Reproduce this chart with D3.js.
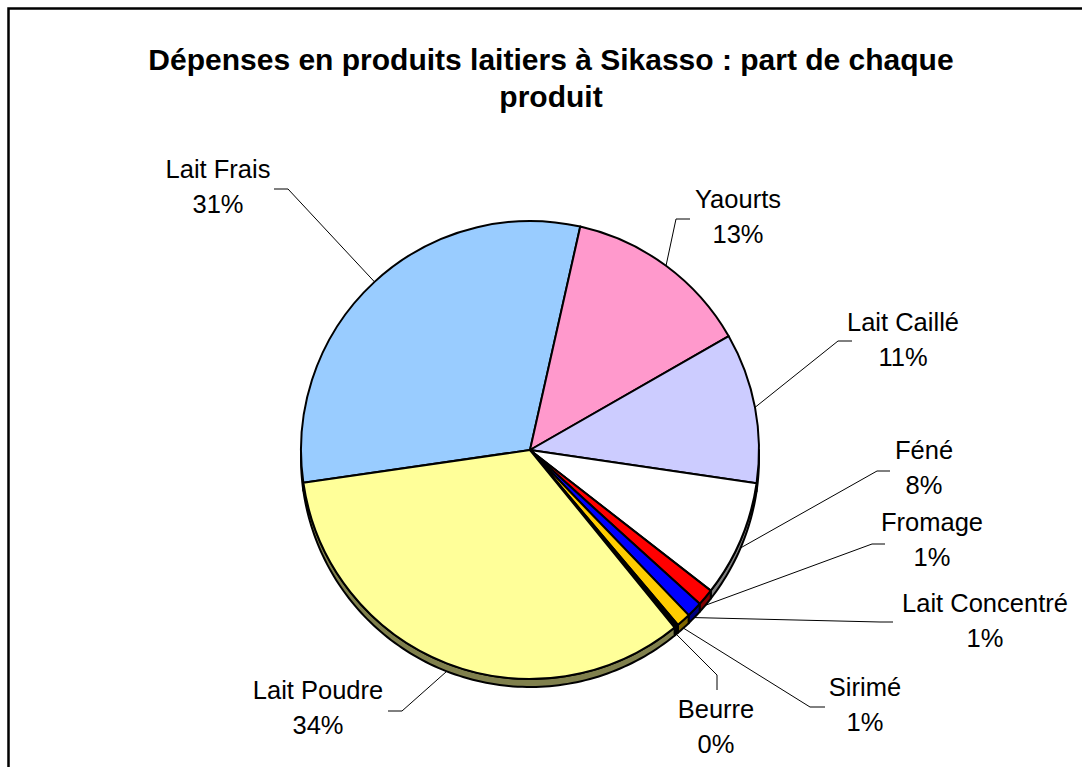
<!DOCTYPE html>
<html>
<head>
<meta charset="utf-8">
<script src="https://cdn.jsdelivr.net/npm/d3@7/dist/d3.min.js"></script>
<style>
  body { margin: 0; background: #fff; }
  text { font-family: "Liberation Sans", Arial, sans-serif; fill: #000; }
</style>
</head>
<body>
<div id="chart"></div>
<script>
// Dépenses en produits laitiers à Sikasso - 3D-ish pie, Excel style

var categories = ["Lait Frais", "Yaourts", "Lait Caillé", "Féné", "Fromage",
  "Lait Concentré", "Sirimé", "Beurre", "Lait Poudre"];
var values = [30.8, 13.2, 10.6, 8.2, 1.2, 1.1, 1.0, 0.3, 33.6];
var colors = ["#99CCFF", "#FF99CC", "#CCCCFF", "#FFFFFF", "#FF0000",
  "#0000FF", "#FFCC00", "#000000", "#FFFF99"];
var titleLines = ["Dépenses en produits laitiers à Sikasso : part de chaque", "produit"];

// label placement (text centre x, first baseline y, leader start + elbow)
var labelLayout = [
  { x: 218, y: 178, leader: [[274, 189], [288, 189]] },
  { x: 738, y: 208, leader: [[690, 219], [676, 219]] },
  { x: 903, y: 331, leader: [[852, 341], [838, 341]] },
  { x: 924, y: 459, leader: [[890, 471], [877, 471]] },
  { x: 932, y: 531, leader: [[885, 544], [872, 544]] },
  { x: 985, y: 612, leader: [[893, 622], [880, 622]] },
  { x: 865, y: 696, leader: [[825, 707], [810, 707]] },
  { x: 716, y: 718, leader: [[717, 690], [717, 675]] },
  { x: 318, y: 699, leader: [[388, 711], [402, 711]] }
];

var width = 1082;
var height = 767;
var cx = 530, cy = 450, radius = 229, depth = 8;
var startAngle = -98.2 * Math.PI / 180;

var svg = d3.select("#chart")
  .append("svg")
  .attr("width", width)
  .attr("height", height);

// frame (only top and left edges fall inside the picture)
svg.append("rect")
  .attr("x", 8.5)
  .attr("y", 8.5)
  .attr("width", width + 20)
  .attr("height", height + 20)
  .attr("fill", "none")
  .attr("stroke", "#000")
  .attr("stroke-width", 2.5);

svg.selectAll(".title")
  .data(titleLines)
  .enter()
  .append("text")
  .attr("class", "title")
  .attr("x", 551)
  .attr("y", function(d, i) { return 70 + i * 37; })
  .attr("text-anchor", "middle")
  .style("font-size", "30px")
  .style("font-weight", "bold")
  .text(function(d) { return d; });

var total = d3.sum(values);
var data = categories.map(function(c, i) {
  return { category: c, value: values[i], color: colors[i], layout: labelLayout[i] };
});

var pie = d3.pie()
  .sort(null)
  .value(function(d) { return d.value; })
  .startAngle(startAngle)
  .endAngle(startAngle + 2 * Math.PI);

var arcs = pie(data);

var arc = d3.arc()
  .innerRadius(0)
  .outerRadius(radius);

function halfColor(c) {
  var rgb = d3.rgb(c);
  return d3.rgb(rgb.r * 0.5, rgb.g * 0.5, rgb.b * 0.5).toString();
}

function pt(a, r, dy) {
  return [Math.sin(a) * r, -Math.cos(a) * r + (dy || 0)];
}

// side band of the visible (front) part of each slice
function sidePath(d) {
  var paths = [];
  [-2 * Math.PI, 0, 2 * Math.PI].forEach(function(k) {
    var a0 = Math.max(d.startAngle, Math.PI / 2 + k);
    var a1 = Math.min(d.endAngle, 3 * Math.PI / 2 + k);
    if (a1 <= a0) return;
    var n = Math.max(2, Math.ceil((a1 - a0) / 0.02));
    var top = d3.range(n + 1).map(function(j) { return pt(a0 + (a1 - a0) * j / n, radius, 0); });
    var bottom = d3.range(n + 1).map(function(j) { return pt(a1 - (a1 - a0) * j / n, radius, depth); });
    paths.push("M" + top.concat(bottom).map(function(p) { return p.join(","); }).join("L") + "Z");
  });
  return paths.join("");
}

var pieGroup = svg.append("g")
  .attr("transform", "translate(" + cx + "," + cy + ")");

pieGroup.selectAll(".side")
  .data(arcs)
  .enter()
  .append("path")
  .attr("class", "side")
  .attr("d", sidePath)
  .attr("fill", function(d) { return halfColor(d.data.color); })
  .attr("stroke", "#000")
  .attr("stroke-width", 2)
  .attr("stroke-linejoin", "round");

pieGroup.selectAll(".slice")
  .data(arcs)
  .enter()
  .append("path")
  .attr("class", "slice")
  .attr("d", arc)
  .attr("fill", function(d) { return d.data.color; })
  .attr("stroke", "#000")
  .attr("stroke-width", 2)
  .attr("stroke-linejoin", "round");

// leader lines
var line = d3.line();
svg.selectAll(".leader")
  .data(arcs)
  .enter()
  .append("path")
  .attr("class", "leader")
  .attr("d", function(d) {
    var mid = (d.startAngle + d.endAngle) / 2;
    var lower = Math.cos(mid) < 0 ? depth : 0;
    var e = pt(mid, radius, lower);
    var pts = d.data.layout.leader.concat([[cx + e[0], cy + e[1]]]);
    return line(pts);
  })
  .attr("fill", "none")
  .attr("stroke", "#000")
  .attr("stroke-width", 1);

var labels = svg.selectAll(".label")
  .data(arcs)
  .enter()
  .append("text")
  .attr("class", "label")
  .attr("text-anchor", "middle")
  .style("font-size", "25.5px");

labels.append("tspan")
  .attr("x", function(d) { return d.data.layout.x; })
  .attr("y", function(d) { return d.data.layout.y; })
  .text(function(d) { return d.data.category; });

labels.append("tspan")
  .attr("x", function(d) { return d.data.layout.x; })
  .attr("y", function(d) { return d.data.layout.y + 35; })
  .text(function(d) { return Math.round(d.data.value / total * 100) + "%"; });
</script>
</body>
</html>
